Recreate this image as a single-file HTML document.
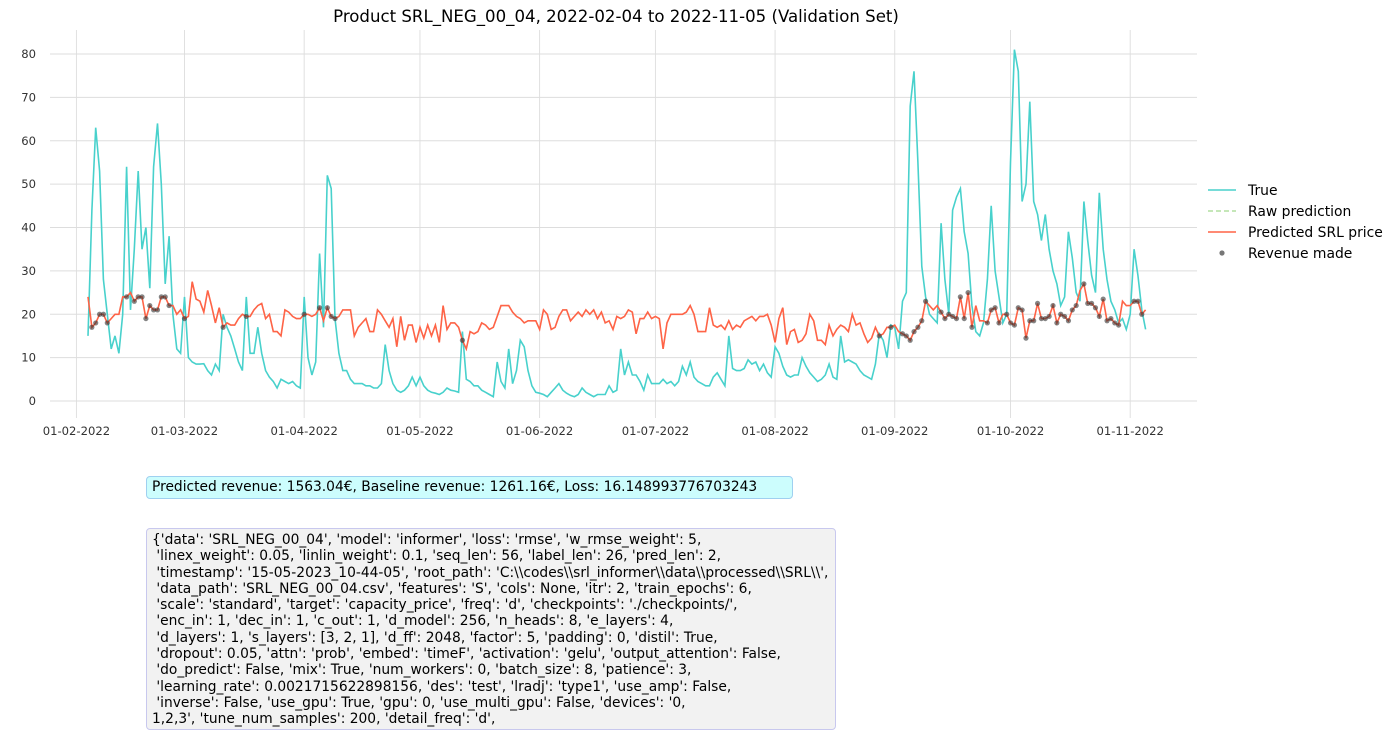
<!DOCTYPE html>
<html><head><meta charset="utf-8">
<style>
body{margin:0;background:#fff;width:1399px;height:736px;overflow:hidden;font-family:"DejaVu Sans","Liberation Sans",sans-serif;}
.box{position:absolute;font-size:13.8px;color:#000;white-space:pre;}
</style></head>
<body>
<svg id="chart" width="1399" height="470" style="position:absolute;left:0;top:0" font-family="DejaVu Sans, Liberation Sans, sans-serif"></svg>
<div class="box" style="left:146px;top:476px;width:640px;height:21px;background:#ccfdfd;border:1px solid #9fd0f0;border-radius:4px;padding:0 0 0 5px;line-height:21px;">Predicted revenue: 1563.04€, Baseline revenue: 1261.16€, Loss: 16.148993776703243</div>
<div class="box" style="left:146px;top:528px;width:683px;height:197px;background:#f2f2f2;border:1px solid #c8c8ee;border-radius:4px;padding:3px 0 0 5px;line-height:16.3px;">{'data': 'SRL_NEG_00_04', 'model': 'informer', 'loss': 'rmse', 'w_rmse_weight': 5,
 'linex_weight': 0.05, 'linlin_weight': 0.1, 'seq_len': 56, 'label_len': 26, 'pred_len': 2,
 'timestamp': '15-05-2023_10-44-05', 'root_path': 'C:\\codes\\srl_informer\\data\\processed\\SRL\\',
 'data_path': 'SRL_NEG_00_04.csv', 'features': 'S', 'cols': None, 'itr': 2, 'train_epochs': 6,
 'scale': 'standard', 'target': 'capacity_price', 'freq': 'd', 'checkpoints': './checkpoints/',
 'enc_in': 1, 'dec_in': 1, 'c_out': 1, 'd_model': 256, 'n_heads': 8, 'e_layers': 4,
 'd_layers': 1, 's_layers': [3, 2, 1], 'd_ff': 2048, 'factor': 5, 'padding': 0, 'distil': True,
 'dropout': 0.05, 'attn': 'prob', 'embed': 'timeF', 'activation': 'gelu', 'output_attention': False,
 'do_predict': False, 'mix': True, 'num_workers': 0, 'batch_size': 8, 'patience': 3,
 'learning_rate': 0.0021715622898156, 'des': 'test', 'lradj': 'type1', 'use_amp': False,
 'inverse': False, 'use_gpu': True, 'gpu': 0, 'use_multi_gpu': False, 'devices': '0,
1,2,3', 'tune_num_samples': 200, 'detail_freq': 'd',</div>
<script>
const trueFeb=[15,44,63,53,28,20,12,15,11,20,54,21,35,53,35,40,26,54,64,50,27,38,20,12,11];
const trueMar=[24,10,9,8.5,8.5,8.6,7,6,8.5,7,20,17,15,12,9,7,24,11,11,17,11,7,5.5,4.5,3,5,4.5,4,4.5,3.5,3];
const trueApr=[24,10,6,9,34,17,52,49,19,11,7,7,5,4,4,4,3.5,3.5,3,3,4,13,7,4,2.5,2,2.5,3.5,5.5,3.5];
const trueMay=[5.5,3.5,2.5,2,1.8,1.5,2,3,2.5,2.3,2,16,5,4.5,3.5,3.5,2.5,2,1.5,1,9,4.5,3,12,4,7,14,12.5,7,3.5,2];
const trueJun=[1.8,1.5,1,2,3,4,2.5,1.8,1.3,1,1.5,3,2,1.5,1,1.5,1.5,1.5,3.5,2,2.5,12,6,9,6,6,4.5,2.5,6,4];
const trueJul=[4,4,5,4,4.5,3.5,4.5,8,6,9,5.5,4.5,4,3.5,3.5,5.5,6.5,5,3.5,15,7.5,7,7,7.5,9.5,8.5,9,7,8.5,6.5,5.5];
const trueAug=[12.5,11,8,6,5.5,6,6,10,8,6.5,5.5,4.5,5,6,8.5,5.5,5,15,9,9.5,9,8.5,7,6,5.5,5,8.5,15.5,14,10,17.5];
const trueSep=[17,12,23,25,68,76,55,31,24,20,19,18,41,28,20,44,47,49,39,34,22,16,15,18,28,45,30,24,18,20];
const trueOct=[55,81,76,46,50,69,46,43,37,43,35,30,27,22,24,39,33,25,23,46,37,29,25,48,35,28,23,21,18,19,16.5];
const trueNov=[20,35,29,21,16.5];
const predFeb=[24,17,18,20,20,18,19,20,20,24,24,25,23,24,24,19,22,21,21,24,24,22,22,20,21];
const predMar=[19,19.5,27.5,23.5,23,20.5,25.5,22,18,21.5,17,18,17.5,17.5,19,20,19.5,19.5,21,22,22.5,19,20,16,16,15,21,20.5,19.5,19,19];
const predApr=[20,20,19.5,20,21.5,18.5,21.5,19.5,19,19.5,21,21,21,15,17,18,19,16,16,21,20,18.5,17,19,12.5,19.5,14,17.5,17.5,13.5];
const predMay=[17,14.5,17.5,15,17.5,13.5,22,16.5,18,18,17,14,12,16,15.5,16,18,17.5,16.5,17,19.5,22,22,22,20.5,19.5,19,18,18.5,18.5,18.5];
const predJun=[16.5,21,20,16.5,17,19.5,21,21,18.5,19.5,20.5,19.5,21,20,21,19,20.5,18,18.5,16.5,19.5,19,19.5,21,20.5,15.5,19,19,20.5,19];
const predJul=[19.5,19,12,18,20,20,20,20,20.5,22,20,16,16,16,21.5,17.5,17,17.5,16.5,18.5,16.5,17.5,17,18.5,19,19.5,18.5,19.5,19.5,20,17.5];
const predAug=[13.5,19,21.5,13,16,16.5,13.5,14,15.5,20,18.5,14,14,13,17.5,15,16.5,17.5,17,16,20,17.5,18,15.5,13.5,14.5,17,15,15.5,17,17];
const predSep=[17.5,16,15.5,15,14,16,17,18.5,23,22,21,22,20.5,19,20,19.5,19,24,19,25,17,22,18.5,18.5,18,21,21.5,18,20,20];
const predOct=[18,17.5,21.5,21,14.5,18.5,18.5,22.5,19,19,19.5,22,18,20,19.5,18.5,21,22,25.5,27,22.5,22.5,21.5,19.5,23.5,18.5,19,18,17.5,23,22];
const predNov=[22,23,23,20,21];
const yTicks=[0,10,20,30,40,50,60,70,80];
const xTickLabels=['01-02-2022','01-03-2022','01-04-2022','01-05-2022','01-06-2022','01-07-2022','01-08-2022','01-09-2022','01-10-2022','01-11-2022'];
const xTickDays=[-3,25,56,86,117,147,178,209,239,270]; // days from 2022-02-04

const trueVals=[].concat(trueFeb,trueMar,trueApr,trueMay,trueJun,trueJul,trueAug,trueSep,trueOct,trueNov);
const predVals=[].concat(predFeb,predMar,predApr,predMay,predJun,predJul,predAug,predSep,predOct,predNov);

const NS='http://www.w3.org/2000/svg';
const svg=document.getElementById('chart');
const X0=88,DX=3.86,Y0=401,DY=4.3375;
const xs=d=>X0+d*DX;
const ys=v=>Y0-v*DY;
function mk(tag,attrs,parent){const e=document.createElementNS(NS,tag);for(const k in attrs)e.setAttribute(k,attrs[k]);(parent||svg).appendChild(e);return e;}

const title=mk('text',{x:616,y:22,'text-anchor':'middle','font-size':16.6,fill:'#000'});


title.textContent='Product SRL_NEG_00_04, 2022-02-04 to 2022-11-05 (Validation Set)';

yTicks.forEach(t=>{
  const g=mk('line',{x1:50,x2:1197,y1:ys(t),y2:ys(t),stroke:'#dddddd','stroke-width':0.9});
  
  
  const l=mk('text',{x:36,y:ys(t)+4,'text-anchor':'end','font-size':11.6,fill:'#333'});
  
  
  l.textContent=t;
});
xTickDays.forEach((d,i)=>{
  const g=mk('line',{x1:xs(d),x2:xs(d),y1:30,y2:418,stroke:'#dddddd','stroke-width':0.9});
  
  
  const l=mk('text',{x:xs(d),y:435,'text-anchor':'middle','font-size':11.6,fill:'#333'});
  
  
  l.textContent=xTickLabels[i];
});
function path(vals){return vals.map((v,i)=>(i?'L':'M')+xs(i).toFixed(1)+','+ys(v).toFixed(1)).join('');}
const tl=mk('path',{d:path(trueVals),fill:'none',stroke:'#48d1cc','stroke-width':1.6});


const rl=mk('path',{d:path(predVals),fill:'none',stroke:'#b2dfa0','stroke-width':1.3,'stroke-dasharray':'5,3'});


const pl=mk('path',{d:path(predVals),fill:'none',stroke:'#ff6347','stroke-width':1.6});


predVals.forEach((v,i)=>{
  if(trueVals[i]>=v){
    const c=mk('circle',{cx:xs(i),cy:ys(v),r:2.6,fill:'#333','fill-opacity':0.6});
    
    
  }
});
const leg=[['True','#48d1cc','line'],['Raw prediction','#b2dfa0','dash'],['Predicted SRL price','#ff6347','line'],['Revenue made','#555','dot']];
leg.forEach((e,i)=>{
  const y=190+i*21;
  const g=mk('g',{});
  
  
  if(e[2]==='dot') mk('circle',{cx:1222,cy:y,r:2.6,fill:'#555','fill-opacity':0.8},g);
  else mk('line',{x1:1208,x2:1236,y1:y,y2:y,stroke:e[1],'stroke-width':1.6,'stroke-dasharray':e[2]==='dash'?'5,3':'none'},g);
  const t=mk('text',{x:1248,y:y+5,'font-size':13.9,fill:'#000'},g);
  t.textContent=e[0];
});
</script>
</body></html>
